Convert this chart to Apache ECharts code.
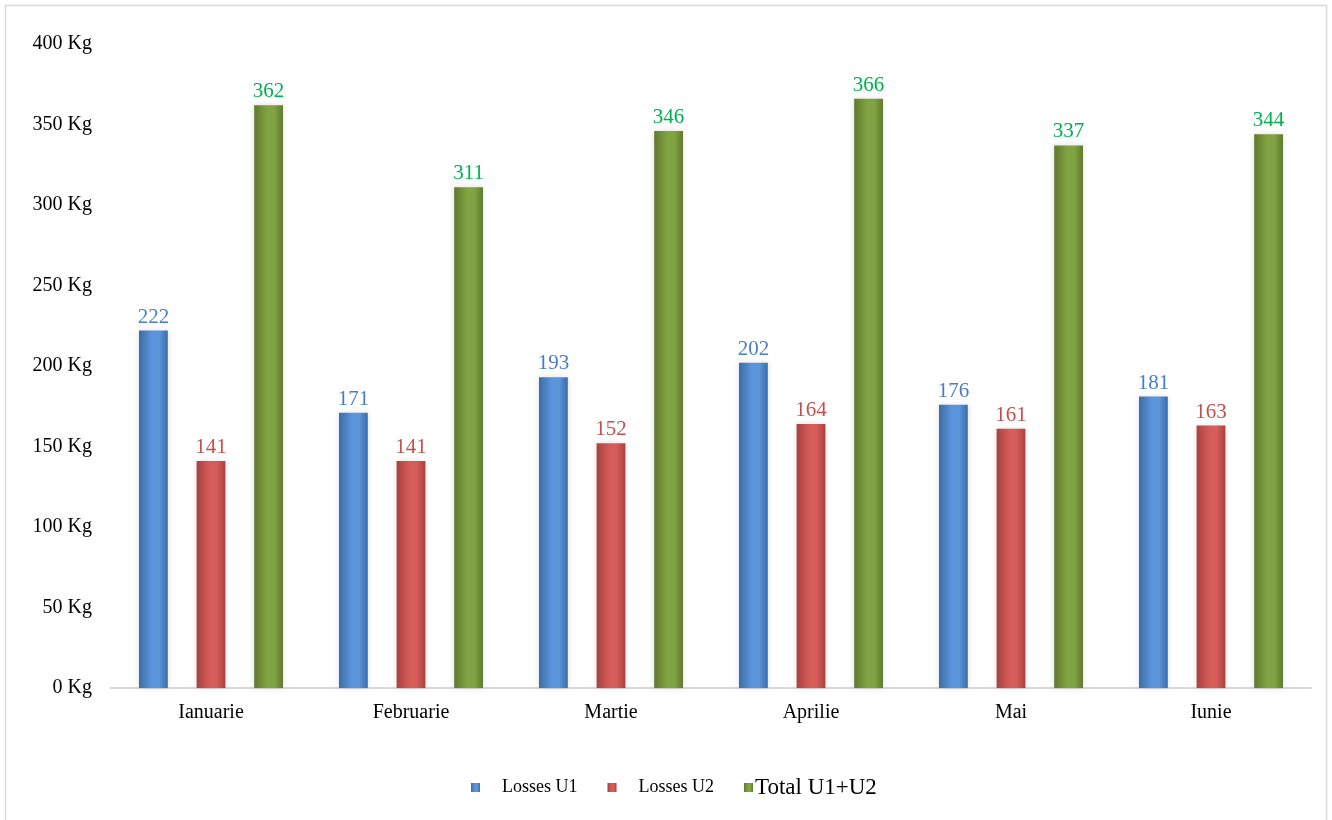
<!DOCTYPE html>
<html>
<head>
<meta charset="utf-8">
<script src="https://cdn.jsdelivr.net/npm/echarts@6/dist/echarts.min.js"></script>
<style>
  html, body { margin: 0; padding: 0; background: #fff; }
  #chart { width: 1332px; height: 820px; }
</style>
</head>
<body>
<div id="chart"></div>
<script>
// data
const months = ['Ianuarie', 'Februarie', 'Martie', 'Aprilie', 'Mai', 'Iunie']
const lossesU1 = [222, 171, 193, 202, 176, 181]
const lossesU2 = [141, 141, 152, 164, 161, 163]
const totalU1U2 = [362, 311, 346, 366, 337, 344]
const seriesNames = ['Losses U1', 'Losses U2', 'Total U1+U2']

const serif = '"Liberation Serif", "DejaVu Serif", serif'

// horizontal gradient, darker at the edges like the 3d-ish office bars
const barFill = (edge, mid) => ({
  type: 'linear', x: 0, y: 0, x2: 1, y2: 0,
  colorStops: [
    { offset: 0, color: edge },
    { offset: 0.45, color: mid },
    { offset: 0.7, color: mid },
    { offset: 1, color: edge }
  ]
})

const makeSeries = (name, data, edge, mid, labelColor) => ({
  name: name,
  type: 'bar',
  data: data,
  barGap: '100%',
  barCategoryGap: '28%',
  itemStyle: {
    color: barFill(edge, mid),
    shadowColor: 'rgba(0,0,0,0.13)',
    shadowBlur: 6
  },
  label: {
    show: true,
    position: 'top',
    distance: 3,
    color: labelColor,
    fontFamily: serif,
    fontSize: 21
  }
})

const chart = echarts.init(document.getElementById('chart'))

chart.setOption({
  backgroundColor: '#fff',
  animation: false,
  color: ['#4f81bd', '#c0504d', '#77933c'],
  graphic: [{
    type: 'rect',
    shape: { x: 5.5, y: 5.5, width: 1321, height: 830 },
    style: { fill: 'none', stroke: '#d9d9d9', lineWidth: 1.5 }
  }],
  grid: { left: 111, right: 21, top: 44, bottom: 132 },
  xAxis: {
    type: 'category',
    data: months,
    axisLine: { lineStyle: { color: '#d9d9d9', width: 2 } },
    axisTick: { show: false },
    axisLabel: { color: '#000', fontFamily: serif, fontSize: 20, margin: 15 }
  },
  yAxis: {
    type: 'value',
    min: 0,
    max: 400,
    interval: 50,
    splitLine: { show: false },
    axisLine: { show: false },
    axisTick: { show: false },
    axisLabel: {
      color: '#000', fontFamily: serif, fontSize: 20, margin: 19,
      formatter: '{value} Kg'
    }
  },
  legend: {
    data: seriesNames,
    bottom: 16,
    left: 466,
    itemWidth: 9,
    itemHeight: 9,
    itemGap: 30,
    icon: 'rect',
    formatter: (name) => name === 'Total U1+U2' ? '{big|' + name + '}' : '{small|' + name + '}',
    textStyle: {
      fontFamily: serif,
      color: '#000',
      rich: {
        small: { fontFamily: serif, fontSize: 18, color: '#000', padding: [0, 0, 0, 17] },
        big: { fontFamily: serif, fontSize: 23, color: '#000', padding: [0, 0, 0, -3] }
      }
    }
  },
  series: [
    makeSeries(seriesNames[0], lossesU1, '#3d6ca6', '#5b95dc', '#4a7ec4'),
    makeSeries(seriesNames[1], lossesU2, '#a8413f', '#d65c59', '#c0504d'),
    makeSeries(seriesNames[2], totalU1U2, '#5f7a2e', '#82a343', '#00b050')
  ]
})
</script>
</body>
</html>
